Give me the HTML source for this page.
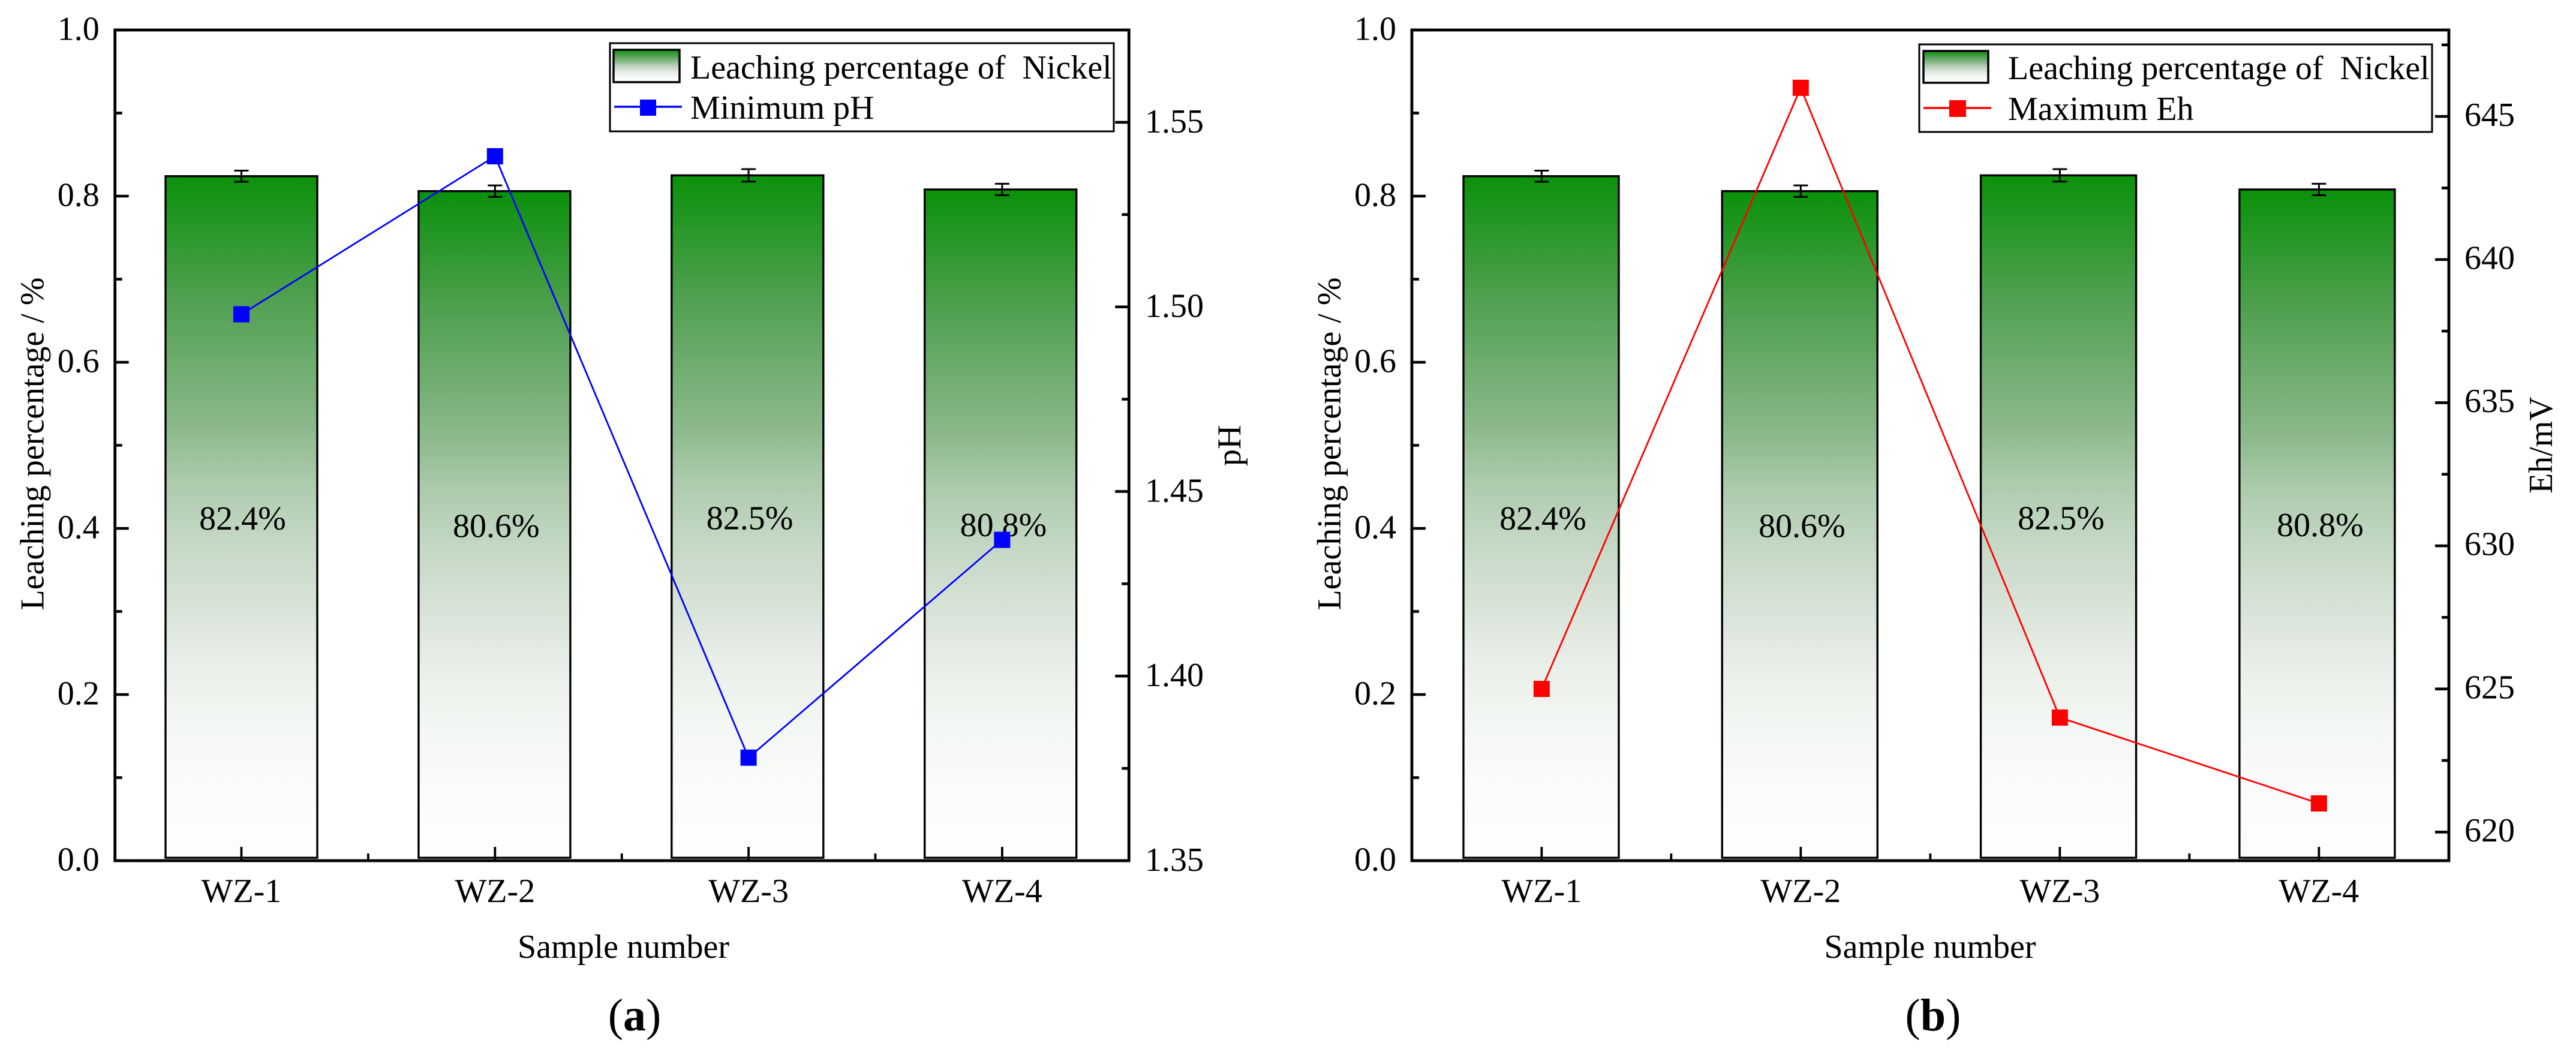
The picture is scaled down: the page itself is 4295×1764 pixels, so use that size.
<!DOCTYPE html>
<html lang="en">
<head>
<meta charset="utf-8">
<title>Leaching percentage of nickel with minimum pH and maximum Eh</title>
<style>
html,body{margin:0;padding:0;background:#fff;width:4295px;height:1764px;overflow:hidden}
svg{display:block}
text{font-family:"Liberation Serif",serif;font-size:56px;fill:#000;white-space:pre}
</style>
</head>
<body>
<svg id="figure" xmlns="http://www.w3.org/2000/svg" width="4295" height="1764" viewBox="0 0 4295 1764">
<defs>
<linearGradient id="barGradient" x1="0" y1="0" x2="0" y2="1">
<stop offset="0" stop-color="#0a910a"/>
<stop offset="0.18" stop-color="#50a050"/>
<stop offset="0.37" stop-color="#8cb98c"/>
<stop offset="0.445" stop-color="#accaac"/>
<stop offset="0.53" stop-color="#c3d7c3"/>
<stop offset="0.62" stop-color="#d6e2d6"/>
<stop offset="0.71" stop-color="#e8eee8"/>
<stop offset="0.8" stop-color="#f3f7f3"/>
<stop offset="0.9" stop-color="#fafbfa"/>
<stop offset="1" stop-color="#fdfefd"/>
</linearGradient>
</defs>
<rect x="0" y="0" width="4295" height="1764" fill="#fff"/>
<g id="panelA"></g>
<g id="panelB"></g>

<g>
<rect x="1017" y="72" width="840" height="147" fill="#fff" stroke="#000" stroke-width="3"/>
<rect x="1023" y="83" width="110" height="54" fill="url(#barGradient)" stroke="#000" stroke-width="3.5"/>
<text x="1151" y="131" xml:space="preserve">Leaching percentage of  Nickel</text>
<line x1="1024" y1="178" x2="1137" y2="178" stroke="#0000ff" stroke-width="3.5"/>
<rect x="1067" y="166" width="27" height="27" fill="#0000ff"/>
<text x="1151" y="198">Minimum pH</text>
</g>

<g>
<rect x="3200" y="74" width="855" height="146" fill="#fff" stroke="#000" stroke-width="3"/>
<rect x="3207" y="85" width="108" height="53" fill="url(#barGradient)" stroke="#000" stroke-width="3.5"/>
<text x="3348" y="132" xml:space="preserve">Leaching percentage of  Nickel</text>
<line x1="3207" y1="180" x2="3320" y2="180" stroke="#ff0000" stroke-width="3.5"/>
<rect x="3250" y="167" width="28" height="28" fill="#ff0000"/>
<text x="3348" y="200">Maximum Eh</text>
</g>

<text transform="translate(72.7 1017.5) rotate(-90)">Leaching percentage / %</text>
<text transform="translate(2068 777) rotate(-90)">pH</text>
<text x="1039.5" y="1597" text-anchor="middle">Sample number</text>
<text x="1058" y="1718" text-anchor="middle" style="font-size:76px">(<tspan font-weight="bold">a</tspan>)</text>

<text transform="translate(2235 1017.5) rotate(-90)">Leaching percentage / %</text>
<text transform="translate(4255 823) rotate(-90)">Eh/mV</text>
<text x="3218" y="1597" text-anchor="middle">Sample number</text>
<text x="3223" y="1718" text-anchor="middle" style="font-size:76px">(<tspan font-weight="bold">b</tspan>)</text>
</svg>

<script>
const categories = ['WZ-1', 'WZ-2', 'WZ-3', 'WZ-4'];
const leachingValues = [0.824, 0.806, 0.825, 0.808];
const leachingErrors = [0.0067, 0.0069, 0.0075, 0.0069];
const minimumPh = [1.498, 1.5408, 1.3779, 1.4369];
const maximumEh = [625, 646, 624, 621];
const leftMajorTicks = [0, 0.2, 0.4, 0.6, 0.8, 1.0];
const leftMinorTicks = [0.1, 0.3, 0.5, 0.7, 0.9];
const phMajorTicks = [1.35, 1.40, 1.45, 1.50, 1.55];
const phMinorTicks = [1.375, 1.425, 1.475, 1.525];
const ehMajorTicks = [620, 625, 630, 635, 640, 645];
const ehMinorTicks = [622.5, 627.5, 632.5, 637.5, 642.5, 647.5];

const SVGNS = 'http://www.w3.org/2000/svg';
const TOP = 50, BOTTOM = 1435;
const leftMin = 0, leftMax = 1;
const BAR_BASE = 0.0035;

function yLeft(v) {
  return BOTTOM - (v - leftMin) / (leftMax - leftMin) * (BOTTOM - TOP);
}
function make(parent, tag, attrs, text) {
  const el = document.createElementNS(SVGNS, tag);
  for (const k in attrs) el.setAttribute(k, attrs[k]);
  if (text !== undefined) el.textContent = text;
  parent.appendChild(el);
  return el;
}

function drawPanel(cfg) {
  const g = document.getElementById(cfg.id);
  const yRight = v => BOTTOM - (v - cfg.rightMin) / (cfg.rightMax - cfg.rightMin) * (BOTTOM - TOP);
  const xTick = i => cfg.tickStart + i * cfg.tickStep;
  const xBar = i => cfg.barStart + i * cfg.barStep;

  // bars
  categories.forEach((c, i) => {
    const yTop = yLeft(leachingValues[i]);
    const bar = make(g, 'rect', {x: xBar(i) - cfg.barWidth / 2, y: yTop, width: cfg.barWidth, height: yLeft(BAR_BASE) - yTop, fill: 'url(#barGradient)', stroke: '#000', 'stroke-width': 3.4});
    
    
  });

  // value labels at mid-bar
  categories.forEach((c, i) => {
    const label = make(g, 'text', {x: xTick(i) + 2, y: yLeft(leachingValues[i] / 2) + 18.6, 'text-anchor': 'middle'}, (leachingValues[i] * 100).toFixed(1) + '%');
    
    
  });

  // error bars
  categories.forEach((c, i) => {
    const x = xTick(i), hi = yLeft(leachingValues[i] + leachingErrors[i]), lo = yLeft(leachingValues[i] - leachingErrors[i]);
    const err = make(g, 'path', {d: 'M' + (x - 12) + ' ' + hi + 'H' + (x + 12) + 'M' + x + ' ' + hi + 'V' + lo + 'M' + (x - 12) + ' ' + lo + 'H' + (x + 12), fill: 'none', stroke: '#000', 'stroke-width': 3});
    
    
  });

  // frame
  const frame = make(g, 'rect', {x: cfg.left, y: TOP, width: cfg.right - cfg.left, height: BOTTOM - TOP, fill: 'none', stroke: '#000', 'stroke-width': 4.8});
  
  

  // left axis ticks
  leftMajorTicks.forEach(v => {
    const y = yLeft(v);
    const t = make(g, 'line', {x1: cfg.left, x2: cfg.left + 23, y1: y, y2: y, stroke: '#000', 'stroke-width': 4.6});
    
    
    const l = make(g, 'text', {x: cfg.left - 26, y: y + 16.7, 'text-anchor': 'end'}, v.toFixed(1));
    
    
  });
  leftMinorTicks.forEach(v => {
    const y = yLeft(v);
    const t = make(g, 'line', {x1: cfg.left, x2: cfg.left + 12, y1: y, y2: y, stroke: '#000', 'stroke-width': 4.6});
    
    
  });

  // right axis ticks
  cfg.rightMajor.forEach(v => {
    const y = yRight(v);
    const t = make(g, 'line', {x1: cfg.right, x2: cfg.right - 23, y1: y, y2: y, stroke: '#000', 'stroke-width': 4.6});
    
    
    const l = make(g, 'text', {x: cfg.rightLabelX, y: y + cfg.rightLabelDy}, cfg.rightFormat(v));
    
    
  });
  cfg.rightMinor.forEach(v => {
    const y = yRight(v);
    const t = make(g, 'line', {x1: cfg.right, x2: cfg.right - 12, y1: y, y2: y, stroke: '#000', 'stroke-width': 4.6});
    
    
  });

  // x axis ticks and labels
  categories.forEach((c, i) => {
    const x = xTick(i);
    const t = make(g, 'line', {x1: x, x2: x, y1: BOTTOM, y2: BOTTOM - 23, stroke: '#000', 'stroke-width': 3.8});
    
    
    const l = make(g, 'text', {x: x, y: 1504, 'text-anchor': 'middle'}, c);
    
    
    if (i < categories.length - 1) {
      const mx = (xTick(i) + xTick(i + 1)) / 2;
      const m = make(g, 'line', {x1: mx, x2: mx, y1: BOTTOM, y2: BOTTOM - 12, stroke: '#000', 'stroke-width': 3.8});
      
      
    }
  });

  // line series
  const pts = cfg.series.map((v, i) => xTick(i) + ',' + yRight(v)).join(' ');
  const line = make(g, 'polyline', {points: pts, fill: 'none', stroke: cfg.color, 'stroke-width': 2.8});
  
  
  cfg.series.forEach((v, i) => {
    const p = make(g, 'rect', {x: xTick(i) - 13.5, y: yRight(v) - 13.5, width: 27, height: 27, fill: cfg.color});
    
    
  });
}

drawPanel({
  id: 'panelA', left: 191.7, right: 1882.3,
  tickStart: 402.5, tickStep: 422.8,
  barStart: 402.5, barStep: 421.9, barWidth: 253,
  rightMin: 1.35, rightMax: 1.575,
  rightMajor: phMajorTicks, rightMinor: phMinorTicks,
  rightFormat: v => v.toFixed(2),
  rightLabelX: 1909, rightLabelDy: 17,
  series: minimumPh, color: '#0000ff', seriesName: 'minimum-ph'
});
drawPanel({
  id: 'panelB', left: 2354, right: 4083,
  tickStart: 2570.4, tickStep: 432,
  barStart: 2569.5, barStep: 431.3, barWidth: 259,
  rightMin: 619, rightMax: 648.02,
  rightMajor: ehMajorTicks, rightMinor: ehMinorTicks,
  rightFormat: v => String(v),
  rightLabelX: 4109, rightLabelDy: 15.7,
  series: maximumEh, color: '#ff0000', seriesName: 'maximum-eh'
});
</script>
</body>
</html>
